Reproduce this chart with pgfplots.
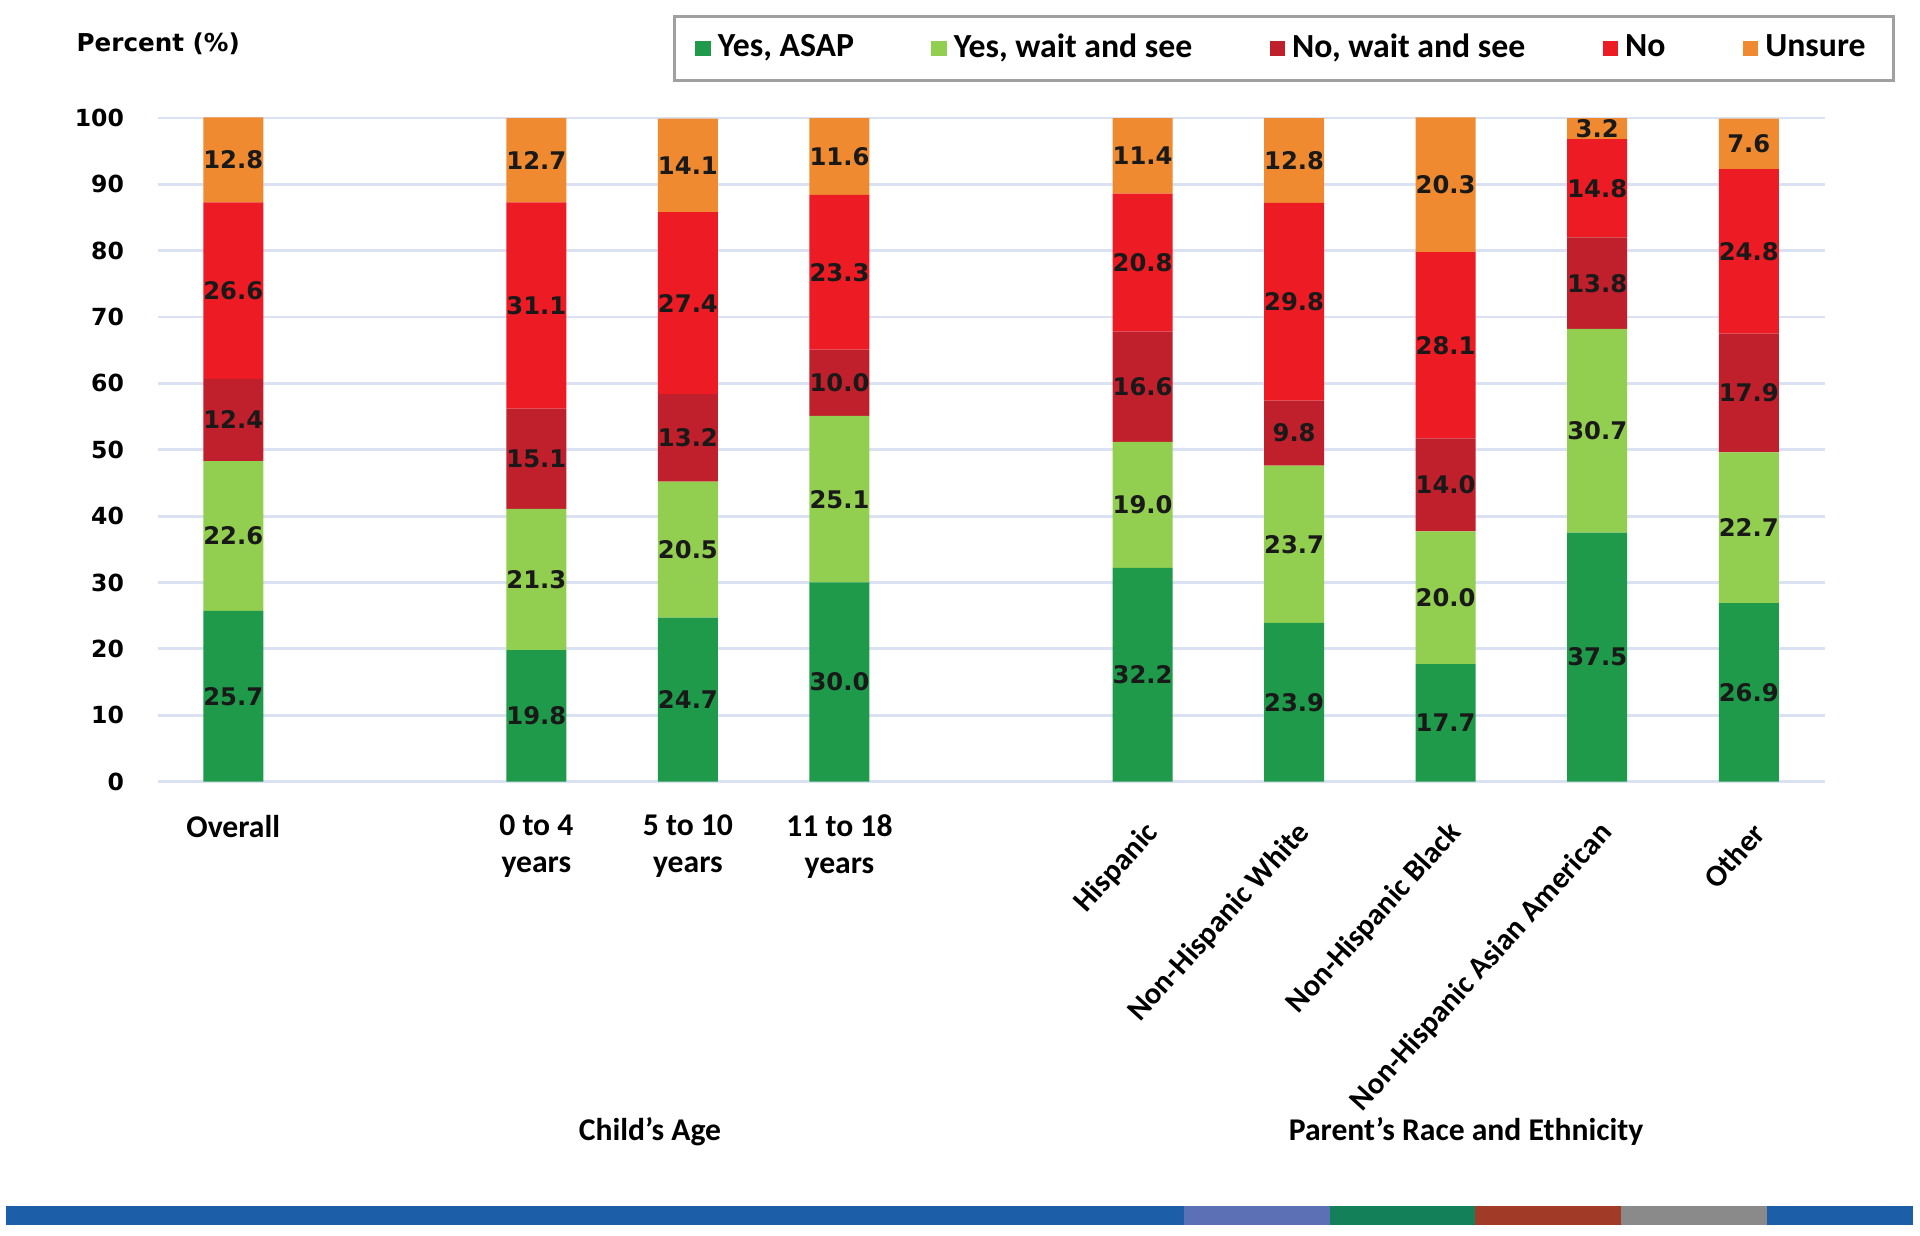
\documentclass[border=0pt]{standalone}
\usepackage{pgfplots}
\pgfplotsset{compat=1.18}
\usepackage{pgfplotstable}
\usepackage{fontspec}
\setmainfont{Carlito}
\newfontfamily\dejavu{DejaVu Sans}

\definecolor{cYA}{RGB}{31,154,74}
\definecolor{cYW}{RGB}{146,206,80}
\definecolor{cNW}{RGB}{192,32,44}
\definecolor{cNo}{RGB}{237,28,36}
\definecolor{cUn}{RGB}{240,138,48}
\definecolor{gridc}{RGB}{217,225,242}
\definecolor{legc}{RGB}{160,160,160}
\definecolor{sBlue}{RGB}{28,94,168}
\definecolor{sSlate}{RGB}{92,112,182}
\definecolor{sGreen}{RGB}{20,128,90}
\definecolor{sBrown}{RGB}{162,58,40}
\definecolor{sGray}{RGB}{138,138,138}

\pgfplotstableread{
x  ya   yw   nw   no   un
0  25.7 22.6 12.4 26.6 12.8
2  19.8 21.3 15.1 31.1 12.7
3  24.7 20.5 13.2 27.4 14.1
4  30.0 25.1 10.0 23.3 11.6
6  32.2 19.0 16.6 20.8 11.4
7  23.9 23.7  9.8 29.8 12.8
8  17.7 20.0 14.0 28.1 20.3
9  37.5 30.7 13.8 14.8  3.2
10 26.9 22.7 17.9 24.8  7.6
}\datatable

\begin{document}
\begin{tikzpicture}[x=1cm,y=1cm]
\useasboundingbox (0,0) rectangle (19.2,-12.36);
\begin{axis}[
  at={(1.575cm,-7.815cm)}, anchor=south west,
  scale only axis, width=16.67cm, height=6.635cm,
  xmin=-0.5, xmax=10.5, ymin=0, ymax=100,
  ybar stacked, bar width=0.6cm,
  axis line style={draw=none},
  major tick length=0pt,
  ytick={0,10,...,100},
  ymajorgrids, grid style={gridc, line width=0.8pt},
  xtick={0,2,3,4},
  xticklabels={Overall,{0 to 4\\years},{5 to 10\\years},{11 to 18\\years}},
  xticklabel style={align=center, font=\bfseries\fontsize{9}{10.5}\selectfont, yshift=-6pt},
  extra x ticks={6,7,8,9,10},
  extra x tick labels={Hispanic,Non-Hispanic White,Non-Hispanic Black,Non-Hispanic Asian American,Other},
  extra x tick style={xticklabel style={rotate=48, anchor=east, align=right, font=\bfseries\fontsize{8.7}{10}\selectfont, xshift=0pt, yshift=-7pt}, major tick length=0pt},
  yticklabel style={font=\dejavu\bfseries\fontsize{6.7}{8}\selectfont, xshift=-6pt},
  /pgf/number format/assume math mode=true,
  nodes near coords={\pgfmathprintnumber[fixed,fixed zerofill,precision=1]{\pgfplotspointmeta}},
  every node near coord/.append style={font=\dejavu\bfseries\fontsize{6.9}{7.5}\selectfont, text=black!90, anchor=center},
  legend columns=5,
  legend style={at={(0.6758,1.1047)}, anchor=center, draw=legc, line width=0.8pt,
    font=\bfseries\fontsize{9.6}{11}\selectfont,
    /tikz/every even column/.append style={column sep=20pt},
    inner xsep=6pt, inner ysep=3pt},
  legend image code/.code={\fill[#1] (0pt,-2.2pt) rectangle (4.4pt,2.2pt);},
  legend cell align=left,
  clip=false,
]
\addplot[fill=cYA, draw=none] table[x=x,y=ya]{\datatable};
\addplot[fill=cYW, draw=none] table[x=x,y=yw]{\datatable};
\addplot[fill=cNW, draw=none] table[x=x,y=nw]{\datatable};
\addplot[fill=cNo, draw=none] table[x=x,y=no]{\datatable};
\addplot[fill=cUn, draw=none] table[x=x,y=un]{\datatable};
\legend{{Yes, ASAP},{Yes, wait and see},{No, wait and see},No,Unsure}
\end{axis}
\node[anchor=west, inner sep=0pt, font=\dejavu\bfseries\fontsize{7}{8}\selectfont] at (0.76,-0.44) {Percent (\%)};
\node[font=\bfseries\fontsize{9}{10}\selectfont] at (6.50,-11.315) {Child’s Age};
\node[font=\bfseries\fontsize{9}{10}\selectfont] at (14.66,-11.315) {Parent’s Race and Ethnicity};
\fill[sBlue] (0.06,-12.06) rectangle (11.84,-12.25);
\fill[sSlate] (11.84,-12.06) rectangle (13.30,-12.25);
\fill[sGreen] (13.30,-12.06) rectangle (14.75,-12.25);
\fill[sBrown] (14.75,-12.06) rectangle (16.21,-12.25);
\fill[sGray] (16.21,-12.06) rectangle (17.67,-12.25);
\fill[sBlue] (17.67,-12.06) rectangle (19.13,-12.25);
\end{tikzpicture}
\end{document}
